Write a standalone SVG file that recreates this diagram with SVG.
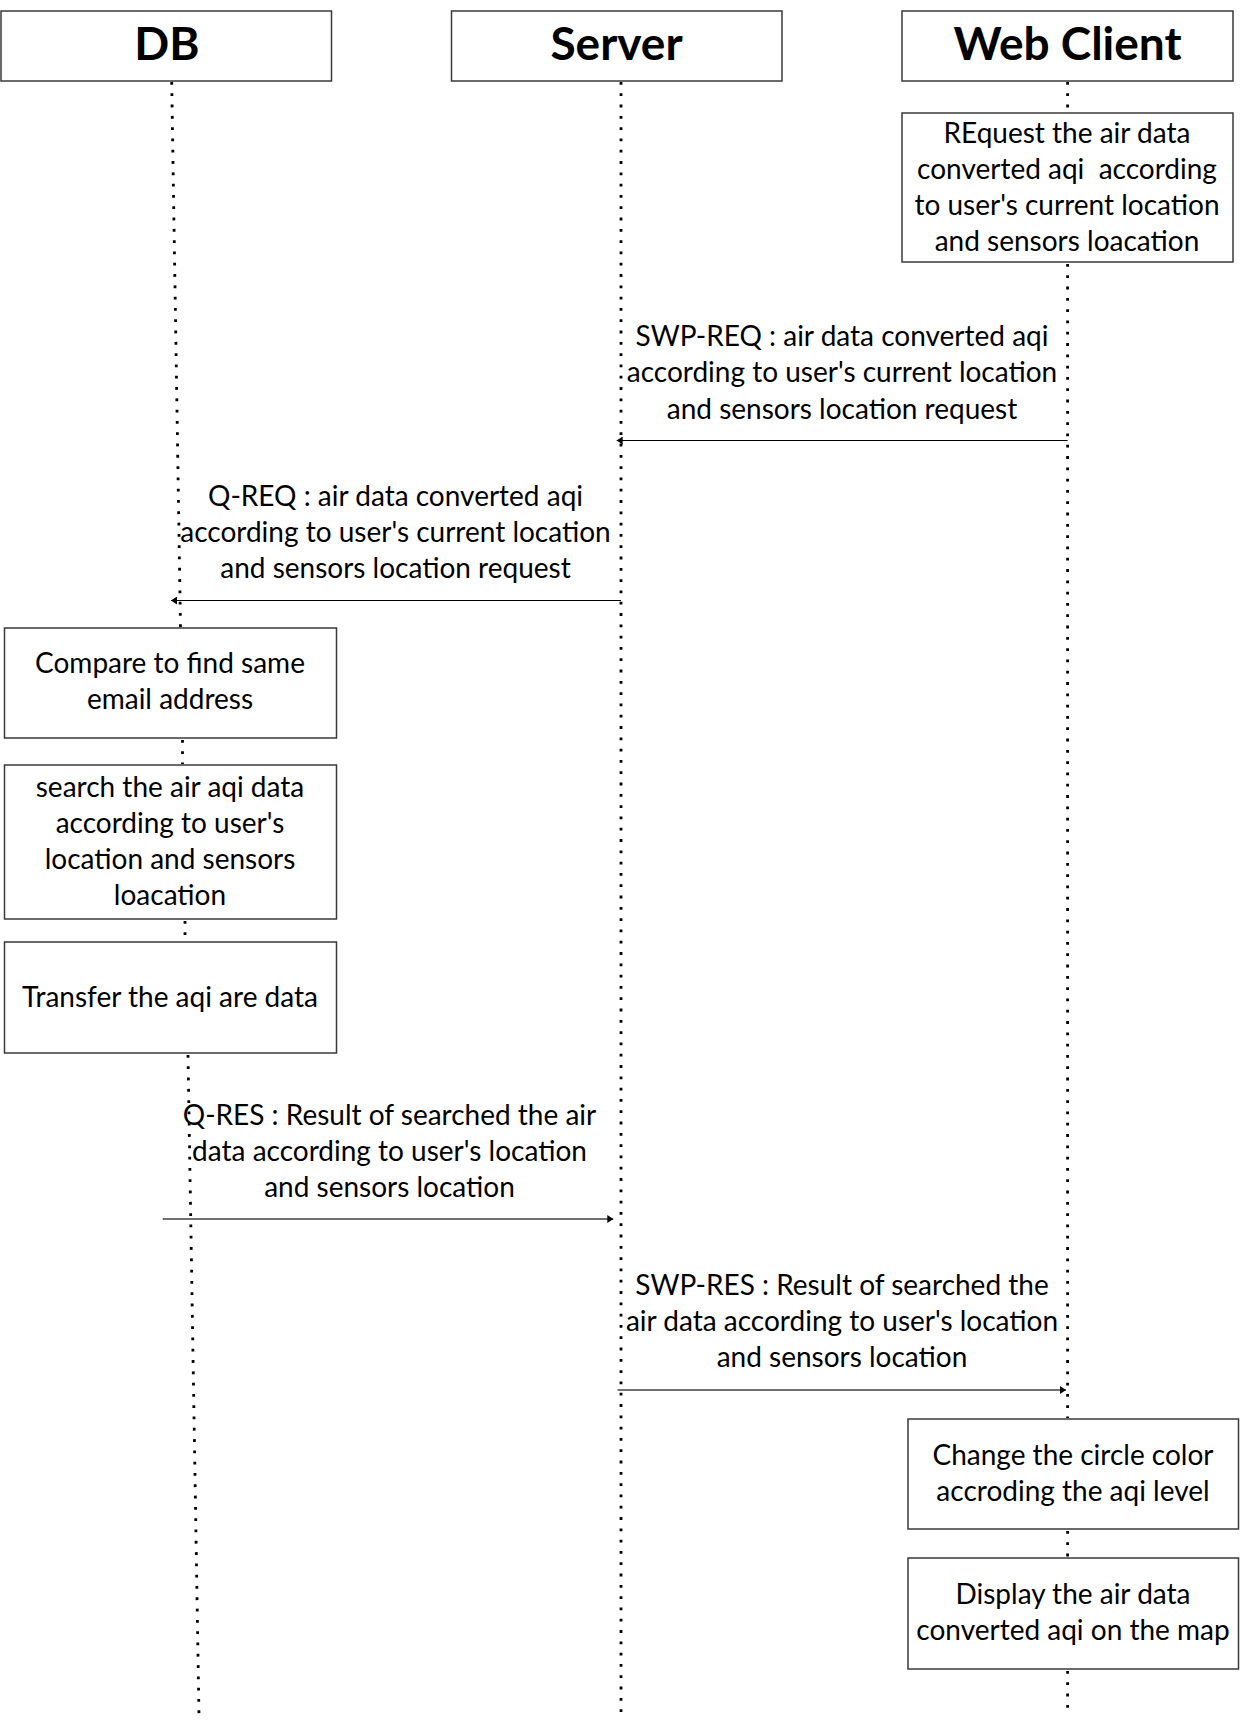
<svg xmlns="http://www.w3.org/2000/svg" width="1245" height="1724" viewBox="0 0 1245 1724">
<defs>
<style>
.box{fill:#fff;stroke:#3a3a3a;stroke-width:1.5}
.title{font-family:Lato,"Liberation Sans",sans-serif;font-weight:bold;font-size:46px;text-anchor:middle;fill:#000}
.t{font-family:Lato,"Liberation Sans",sans-serif;font-size:28px;text-anchor:middle;fill:#000}
.life{fill:none;stroke:#000;stroke-width:2.8;stroke-dasharray:2.8 8.5}
.msg{fill:none;stroke:#000;stroke-width:1.2}
.msg2{fill:none;stroke:#707070;stroke-width:1.8}
</style>
<marker id="ah" viewBox="0 0 6 8" refX="6" refY="4" markerWidth="6" markerHeight="8" markerUnits="userSpaceOnUse" orient="auto">
<path d="M0,0 L6,4 L0,8 Z" fill="#000"/>
</marker>
</defs>
<rect width="1245" height="1724" fill="#fff"/>
<g id="lifelines">
<path class="life" d="M171.7,82 L180.5,627"/>
<path class="life" d="M182.5,740 L182.5,764"/>
<path class="life" d="M185,921 L185,941"/>
<path class="life" d="M188,1055 L199,1716"/>
<path class="life" d="M621,82 L621,1716"/>
<path class="life" d="M1067.6,82 L1067.6,111"/>
<path class="life" d="M1067.6,264 L1067.6,1418"/>
<path class="life" d="M1067.6,1531 L1067.6,1557"/>
<path class="life" d="M1067.6,1671 L1067.6,1716"/>
</g>
<g id="db">
<rect class="box" x="1" y="11" width="330.5" height="70"/>
<text class="title" x="167" y="60">DB</text>
</g>
<g id="server">
<rect class="box" x="451.5" y="11" width="330.5" height="70"/>
<text class="title" x="616.5" y="60">Server</text>
</g>
<g id="webclient">
<rect class="box" x="902" y="11" width="331" height="70"/>
<text class="title" x="1067.5" y="60">Web Client</text>
</g>
<g id="request">
<rect class="box" x="902" y="113" width="331" height="149"/>
<text class="t" x="1067" y="143">REquest the air data</text>
<text class="t" x="1067" y="179" xml:space="preserve">converted aqi  according</text>
<text class="t" x="1067" y="215">to user's current location</text>
<text class="t" x="1067" y="251">and sensors loacation</text>
</g>
<g id="compare">
<rect class="box" x="4.5" y="628" width="332" height="110"/>
<text class="t" x="170" y="673">Compare to find same</text>
<text class="t" x="170" y="709">email address</text>
</g>
<g id="search">
<rect class="box" x="4.5" y="765" width="332" height="154"/>
<text class="t" x="170" y="797">search the air aqi data</text>
<text class="t" x="170" y="833">according to user's</text>
<text class="t" x="170" y="869">location and sensors</text>
<text class="t" x="170" y="905">loacation</text>
</g>
<g id="transfer">
<rect class="box" x="4.5" y="942" width="332" height="111"/>
<text class="t" x="170" y="1007">Transfer the aqi are data</text>
</g>
<g id="change">
<rect class="box" x="908" y="1419" width="330.5" height="110"/>
<text class="t" x="1073" y="1465">Change the circle color</text>
<text class="t" x="1073" y="1501">accroding the aqi level</text>
</g>
<g id="display">
<rect class="box" x="908" y="1558" width="330.5" height="111"/>
<text class="t" x="1073" y="1604">Display the air data</text>
<text class="t" x="1073" y="1640">converted aqi on the map</text>
</g>
<g id="connectors">
<line class="msg" x1="1067.6" y1="440.5" x2="616.7" y2="440.5" marker-end="url(#ah)"/>
<line class="msg" x1="621" y1="600.5" x2="171" y2="600.5" marker-end="url(#ah)"/>
<line class="msg2" x1="162.7" y1="1219" x2="613.3" y2="1219" marker-end="url(#ah)"/>
<line class="msg2" x1="617.6" y1="1390" x2="1066" y2="1390" marker-end="url(#ah)"/>
</g>
<g id="labels">
<text class="t" x="842" y="346">SWP-REQ : air data converted aqi</text>
<text class="t" x="842" y="382">according to user's current location</text>
<text class="t" x="842" y="419">and sensors location request</text>
<text class="t" x="395.5" y="506">Q-REQ : air data converted aqi</text>
<text class="t" x="395.5" y="542">according to user's current location</text>
<text class="t" x="395.5" y="578">and sensors location request</text>
<text class="t" x="389.5" y="1125">Q-RES : Result of searched the air</text>
<text class="t" x="389.5" y="1161">data according to user's location</text>
<text class="t" x="389.5" y="1197">and sensors location</text>
<text class="t" x="842" y="1295">SWP-RES : Result of searched the</text>
<text class="t" x="842" y="1331">air data according to user's location</text>
<text class="t" x="842" y="1367">and sensors location</text>
</g>
</svg>
